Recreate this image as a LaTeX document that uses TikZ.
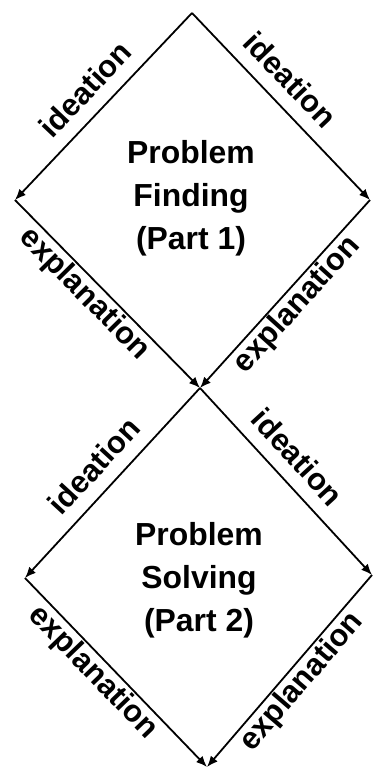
\documentclass[tikz,border=0pt]{standalone}
\usepackage{fontspec}
\setmainfont{Liberation Sans}
\usetikzlibrary{arrows.meta}

\begin{document}
\begin{tikzpicture}[
  x=1bp, y=1bp,
  flow/.style = {-{Latex[length=11bp, width=9bp]}, line width=1.8bp},
  lbl/.style  = {font=\fontsize{31}{36}\selectfont\bfseries, sloped},
  idea/.style = {lbl, above, inner sep=13bp},
  expl/.style = {lbl, below, inner sep=1.5bp},
  ttl/.style  = {font=\fontsize{32}{43}\selectfont\bfseries, align=center},
]
\useasboundingbox (0,0) rectangle (374,770);

% corners of the two diamonds
\coordinate (t1) at (192,757);
\coordinate (l1) at (15,570);
\coordinate (r1) at (370,570);
\coordinate (m)  at (200,382);
\coordinate (l2) at (25,192);
\coordinate (r2) at (372,195);
\coordinate (b2) at (207,3);

% ======================= part 1 ========================================
\draw[flow] (t1) -- node[idea, pos=0.5]  {ideation} (l1);
\draw[flow] (t1) -- node[idea, pos=0.45] {ideation} (r1);
\draw[flow] (l1) -- node[expl, pos=0.44] {explanation} (m);
\draw[flow] (r1) -- node[expl, pos=0.5]  {explanation} (m);
\node[ttl] (finding) at (191,572) {Problem\\Finding\\(Part 1)};

% ======================= part 2 ========================================
\draw[flow] (m)  -- node[idea, pos=0.5]  {ideation} (l2);
\draw[flow] (m)  -- node[idea, pos=0.46] {ideation} (r2);
\draw[flow] (l2) -- node[expl, pos=0.44] {explanation} (b2);
\draw[flow] (r2) -- node[expl, pos=0.5]  {explanation} (b2);
\node[ttl] (solving) at (199,190) {Problem\\Solving\\(Part 2)};

\end{tikzpicture}
\end{document}
